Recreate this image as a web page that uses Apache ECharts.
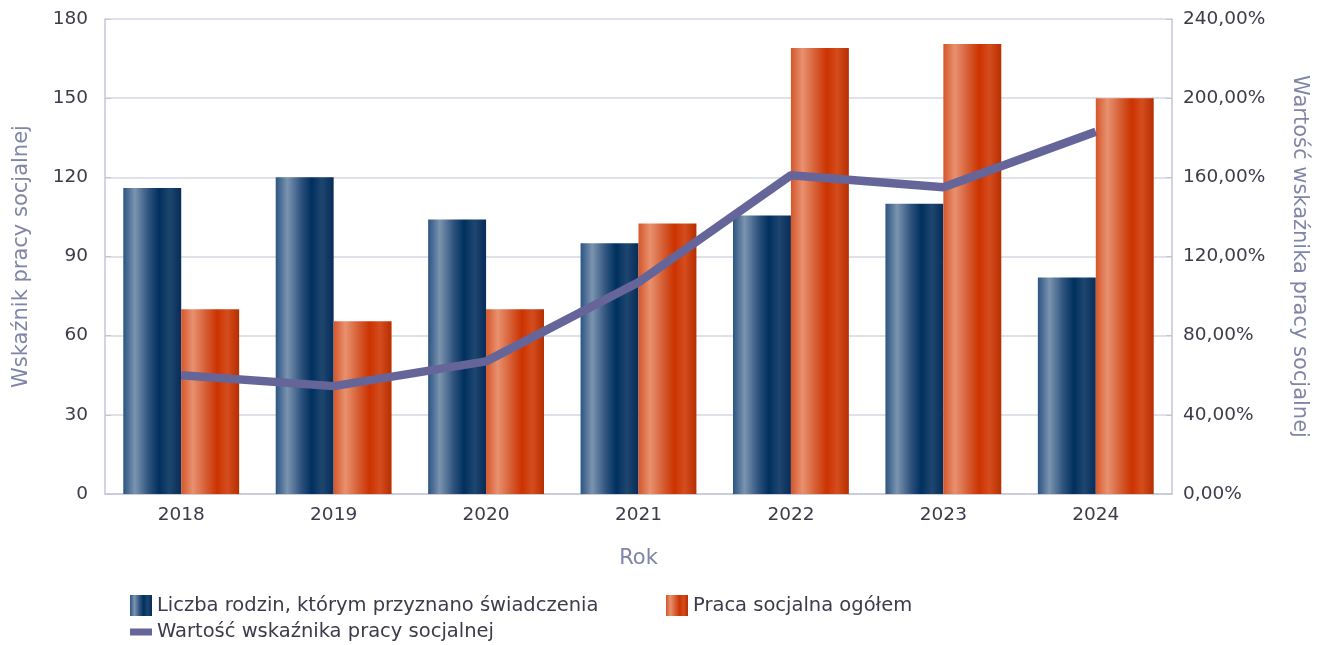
<!DOCTYPE html>
<html><head><meta charset="utf-8">
<script src="https://cdn.jsdelivr.net/npm/echarts@6/dist/echarts.min.js"></script>
<style>html,body{margin:0;padding:0;background:#fff}#c{width:1335px;height:645px}</style>
</head><body><div id="c"></div>
<script>
const categories = ['2018','2019','2020','2021','2022','2023','2024'];
const rodziny = [116, 120, 104, 95, 105.5, 110, 82];
const pracaSocjalna = [70, 65.5, 70, 102.5, 169, 170.5, 150];
const wskaznik = [60, 54.5, 67, 107, 161, 155, 183];
const leftTicks = {min: 0, max: 180, interval: 30};
const rightTicks = {min: 0, max: 240, interval: 40};

const FONT = 'DejaVu Sans';
const blueGrad = new echarts.graphic.LinearGradient(0,0,1,0,[
  {offset:0,color:'#2c5482'},{offset:0.2,color:'#7b94af'},{offset:0.45,color:'#2b507c'},
  {offset:0.62,color:'#00305f'},{offset:0.8,color:'#1e466f'},{offset:1,color:'#062c57'}]);
const orangeGrad = new echarts.graphic.LinearGradient(0,0,1,0,[
  {offset:0,color:'#d5562a'},{offset:0.2,color:'#e8916f'},{offset:0.45,color:'#d4582d'},
  {offset:0.62,color:'#cc3300'},{offset:0.8,color:'#d44d1f'},{offset:1,color:'#b72e00'}]);
const axisCol = '#c3c6da';
const nameCol = '#8084a6';
const labCol = '#3b3b4b';
const legText = {fontSize: 19.5, color: labCol, fontFamily: FONT};

const chart = echarts.init(document.getElementById('c'));
chart.setOption({
  animation: false,
  textStyle: {fontFamily: FONT},
  grid: {left: 105, right: 163, top: 19, bottom: 151},
  legend: [
    {left: 130, top: 595, padding: 0, itemWidth: 22, itemHeight: 21,
     data: [{name: 'Liczba rodzin, którym przyznano świadczenia', icon: 'rect'}], textStyle: legText},
    {left: 666, top: 595, padding: 0, itemWidth: 22, itemHeight: 21,
     data: [{name: 'Praca socjalna ogółem', icon: 'rect'}], textStyle: legText},
    {left: 130, top: 622, padding: 0, itemWidth: 22, itemHeight: 7,
     data: [{name: 'Wartość wskaźnika pracy socjalnej', icon: 'rect'}], textStyle: legText}
  ],
  xAxis: {
    type: 'category', data: categories,
    name: 'Rok', nameLocation: 'middle', nameGap: 54,
    nameTextStyle: {fontSize: 21, color: nameCol},
    axisLine: {lineStyle: {color: axisCol, width: 1.5}},
    axisTick: {show: false},
    axisLabel: {fontSize: 18.5, color: labCol, margin: 12}
  },
  yAxis: [
    {type: 'value', min: leftTicks.min, max: leftTicks.max, interval: leftTicks.interval,
     name: 'Wskaźnik pracy socjalnej', nameLocation: 'middle', nameGap: 73,
     nameTextStyle: {fontSize: 21, color: nameCol},
     axisLine: {show: true, lineStyle: {color: axisCol, width: 1.5}},
     axisTick: {show: true, inside: true, length: 6, lineStyle: {color: axisCol}},
     axisLabel: {fontSize: 18.5, color: labCol, margin: 17},
     splitLine: {lineStyle: {color: '#d6d6e0', width: 1.5}}},
    {type: 'value', min: rightTicks.min, max: rightTicks.max, interval: rightTicks.interval,
     name: 'Wartość wskaźnika pracy socjalnej', nameLocation: 'middle', nameGap: 117, nameRotate: -90,
     nameTextStyle: {fontSize: 21, color: nameCol},
     axisLine: {show: true, lineStyle: {color: axisCol, width: 1.5}},
     axisTick: {show: true, inside: true, length: 6, lineStyle: {color: axisCol}},
     axisLabel: {fontSize: 18.5, color: labCol, margin: 11,
       formatter: v => v.toFixed(2).replace('.', ',') + '%'},
     splitLine: {show: false}}
  ],
  series: [
    {name: 'Liczba rodzin, którym przyznano świadczenia', type: 'bar', data: rodziny,
     barGap: '0%', barCategoryGap: '24%', itemStyle: {color: blueGrad}},
    {name: 'Praca socjalna ogółem', type: 'bar', data: pracaSocjalna,
     itemStyle: {color: orangeGrad}},
    {name: 'Wartość wskaźnika pracy socjalnej', type: 'line', yAxisIndex: 1, data: wskaznik,
     symbol: 'none', z: 5, lineStyle: {color: '#65659a', width: 8.5}, itemStyle: {color: '#65659a'}}
  ]
});
</script></body></html>
